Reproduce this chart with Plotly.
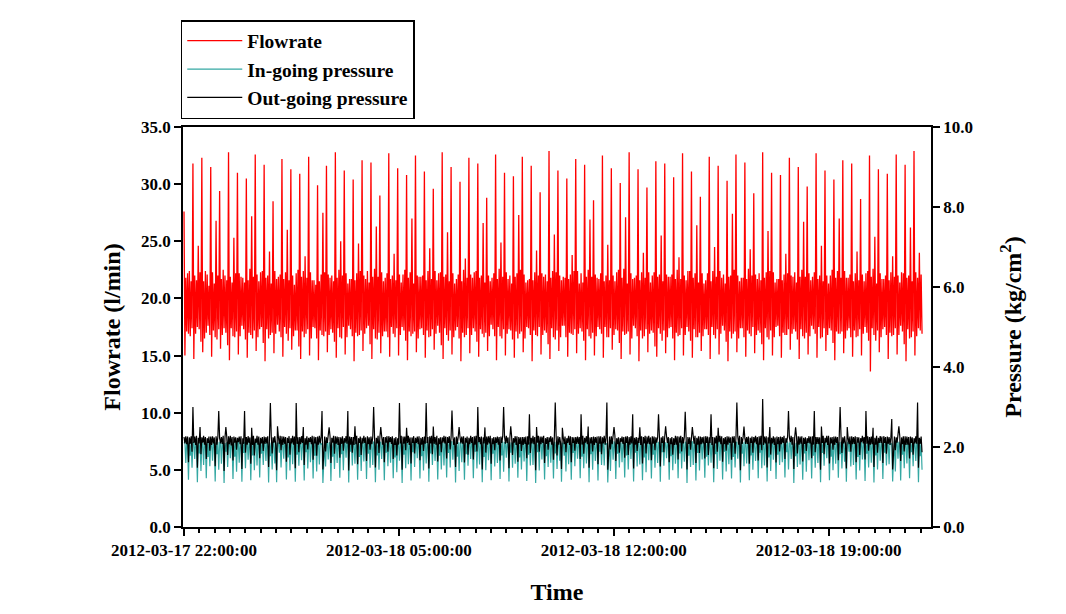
import plotly.graph_objects as go
import pandas as pd

# Flowrate (l/min): one row per pump cycle (~17.4 min), 10 samples per cycle
flow_rows = [
    [27.6, 15.0, 21.8, 17.1, 22.2, 16.9, 22.4, 16.7, 21.5, 17.4],
    [31.8, 14.7, 22.0, 16.9, 21.6, 17.5, 24.6, 17.3, 22.3, 16.2],
    [32.3, 15.3, 21.5, 16.5, 22.4, 17.0, 22.1, 17.6, 21.1, 16.8],
    [31.5, 14.9, 22.3, 17.2, 21.3, 16.6, 26.8, 16.4, 22.0, 17.3],
    [29.4, 15.6, 21.7, 16.8, 22.5, 17.4, 22.0, 17.0, 21.6, 15.9],
    [32.8, 14.6, 21.9, 17.4, 21.4, 16.7, 25.3, 16.6, 22.2, 17.1],
    [31.0, 15.1, 22.2, 16.7, 21.9, 17.6, 21.8, 17.3, 21.4, 16.4],
    [30.5, 14.8, 21.6, 17.0, 22.6, 16.8, 27.2, 16.5, 21.9, 17.2],
    [32.6, 15.4, 22.1, 16.6, 21.5, 17.3, 22.3, 17.5, 22.4, 16.1],
    [31.7, 14.5, 21.8, 17.3, 22.0, 16.5, 24.1, 16.8, 21.3, 17.0],
    [28.5, 15.2, 22.4, 16.9, 21.7, 17.7, 21.9, 17.1, 22.1, 16.6],
    [32.2, 14.9, 21.7, 17.5, 22.3, 16.9, 26.0, 16.3, 21.6, 17.4],
    [31.3, 15.5, 22.0, 16.7, 21.2, 17.2, 22.2, 17.2, 22.5, 15.8],
    [30.9, 14.7, 21.9, 17.1, 22.4, 16.6, 23.7, 16.9, 21.8, 17.3],
    [32.4, 15.0, 22.3, 16.5, 21.6, 17.5, 21.6, 17.4, 21.2, 16.5],
    [29.9, 14.6, 21.5, 17.2, 22.1, 16.8, 27.5, 16.7, 22.3, 17.1],
    [31.6, 15.3, 22.1, 16.8, 21.8, 17.3, 22.0, 17.0, 21.5, 16.2],
    [32.8, 14.8, 21.8, 17.4, 22.5, 16.6, 25.0, 16.5, 22.0, 17.5],
    [31.2, 15.1, 22.2, 16.6, 21.3, 17.6, 21.7, 17.3, 21.7, 16.7],
    [30.4, 14.5, 21.6, 17.0, 22.2, 16.7, 24.8, 16.8, 22.4, 17.2],
    [32.1, 15.4, 22.0, 16.9, 21.7, 17.4, 22.4, 17.6, 21.4, 16.0],
    [31.9, 14.7, 21.9, 17.3, 22.6, 16.5, 26.3, 16.4, 21.9, 17.0],
    [29.0, 15.2, 22.3, 16.7, 21.5, 17.1, 21.8, 17.1, 22.2, 16.6],
    [32.7, 14.9, 21.7, 17.5, 22.0, 16.9, 23.9, 16.6, 21.6, 17.4],
    [31.4, 15.0, 22.1, 16.8, 21.4, 17.5, 22.1, 17.2, 22.5, 16.3],
    [30.8, 14.6, 21.8, 17.1, 22.3, 16.7, 27.0, 16.9, 21.3, 17.1],
    [32.5, 15.3, 22.0, 16.5, 21.9, 17.3, 21.9, 17.4, 22.0, 16.8],
    [31.1, 14.8, 21.6, 17.2, 22.4, 16.6, 24.4, 16.7, 21.7, 17.3],
    [29.6, 15.5, 22.4, 16.9, 21.6, 17.6, 22.2, 17.0, 22.3, 15.9],
    [32.8, 14.7, 21.9, 17.4, 22.1, 16.8, 25.8, 16.3, 21.5, 17.2],
    [31.5, 15.1, 22.2, 16.6, 21.3, 17.2, 21.7, 17.5, 22.1, 16.5],
    [30.2, 14.5, 21.5, 17.0, 22.5, 16.6, 23.5, 16.8, 21.8, 17.4],
    [32.3, 15.2, 22.1, 16.8, 21.8, 17.4, 22.3, 17.1, 22.4, 16.2],
    [31.8, 14.9, 21.8, 17.3, 22.0, 16.9, 26.6, 16.6, 21.4, 17.0],
    [28.8, 15.4, 22.0, 16.7, 21.5, 17.7, 21.8, 17.3, 22.2, 16.7],
    [32.6, 14.6, 21.7, 17.5, 22.6, 16.7, 24.9, 16.5, 21.9, 17.3],
    [31.0, 15.0, 22.3, 16.9, 21.7, 17.3, 22.0, 17.2, 21.3, 16.4],
    [30.7, 14.8, 21.9, 17.1, 22.2, 16.5, 27.3, 16.9, 22.5, 17.1],
    [32.4, 15.3, 22.1, 16.5, 21.4, 17.5, 21.6, 17.4, 21.7, 16.8],
    [31.6, 14.5, 21.6, 17.2, 22.3, 16.8, 24.2, 16.7, 22.0, 17.5],
    [29.3, 15.1, 22.2, 16.8, 21.9, 17.2, 22.1, 17.0, 21.5, 16.0],
    [32.9, 14.7, 21.8, 17.4, 22.4, 16.6, 25.6, 16.4, 22.3, 17.2],
    [31.2, 15.4, 22.0, 16.6, 21.6, 17.6, 21.9, 17.6, 21.8, 16.6],
    [30.5, 14.9, 21.7, 17.0, 22.1, 16.9, 23.8, 16.8, 22.4, 17.3],
    [32.2, 15.2, 22.4, 16.9, 21.3, 17.4, 22.2, 17.1, 21.4, 16.3],
    [31.7, 14.6, 21.9, 17.3, 22.5, 16.7, 26.9, 16.5, 21.9, 17.0],
    [28.6, 15.0, 22.1, 16.7, 21.8, 17.5, 21.7, 17.3, 22.2, 16.9],
    [32.5, 14.8, 21.5, 17.5, 22.0, 16.6, 24.7, 16.6, 21.6, 17.4],
    [31.4, 15.5, 22.0, 16.8, 21.5, 17.3, 22.3, 17.2, 22.5, 16.1],
    [30.1, 14.7, 21.8, 17.1, 22.6, 16.8, 27.1, 16.9, 21.3, 17.1],
    [32.8, 15.1, 22.2, 16.5, 21.7, 17.6, 21.8, 17.4, 22.0, 16.7],
    [31.3, 14.5, 21.6, 17.2, 22.3, 16.5, 24.0, 16.7, 21.8, 17.3],
    [29.7, 15.3, 22.3, 16.9, 21.4, 17.2, 22.0, 17.0, 22.3, 15.8],
    [32.0, 14.9, 21.9, 17.4, 22.1, 16.9, 25.5, 16.3, 21.5, 17.2],
    [31.8, 15.2, 22.1, 16.6, 21.9, 17.4, 21.9, 17.5, 22.1, 16.5],
    [30.6, 14.6, 21.7, 17.0, 22.5, 16.7, 23.6, 16.8, 21.7, 17.4],
    [32.7, 15.0, 22.0, 16.8, 21.6, 17.5, 22.4, 17.1, 22.4, 16.3],
    [31.1, 14.8, 21.8, 17.3, 22.2, 16.6, 26.4, 16.6, 21.4, 17.0],
    [28.9, 15.4, 22.2, 16.7, 21.3, 17.3, 21.6, 17.3, 22.2, 16.8],
    [32.4, 14.7, 21.5, 17.5, 22.4, 16.8, 24.5, 16.5, 21.9, 17.3],
    [31.6, 15.1, 22.4, 16.9, 21.8, 17.6, 22.1, 17.2, 21.3, 16.2],
    [30.3, 14.5, 21.9, 17.1, 22.0, 16.5, 27.4, 16.9, 22.5, 17.1],
    [32.6, 15.3, 22.0, 16.5, 21.5, 17.4, 21.8, 17.4, 21.8, 16.6],
    [31.9, 14.9, 21.7, 17.2, 22.6, 16.9, 24.3, 16.7, 22.0, 17.5],
    [29.2, 15.2, 22.1, 16.8, 21.7, 17.2, 22.2, 17.0, 21.6, 16.0],
    [32.8, 14.6, 21.8, 17.4, 22.3, 16.6, 25.9, 16.4, 22.4, 17.2],
    [31.0, 15.0, 22.3, 16.6, 21.4, 17.5, 21.7, 17.6, 21.7, 16.7],
    [30.8, 14.8, 21.6, 17.0, 22.1, 16.8, 23.9, 16.8, 22.2, 17.3],
    [32.3, 15.5, 22.0, 16.9, 21.9, 17.3, 22.3, 17.1, 21.4, 16.4],
    [31.5, 14.7, 21.9, 17.3, 22.5, 16.7, 26.7, 16.5, 21.9, 17.0],
    [29.8, 15.1, 22.2, 16.7, 21.6, 17.6, 21.9, 17.3, 22.3, 16.9],
    [32.7, 14.8, 21.7, 17.5, 22.0, 16.5, 24.6, 16.6, 21.5, 17.4],
    [31.2, 15.4, 22.0, 16.8, 21.3, 17.4, 22.0, 17.2, 22.5, 16.1],
    [30.4, 14.6, 21.8, 17.1, 22.4, 16.9, 27.0, 16.9, 21.8, 17.1],
    [32.1, 15.2, 22.4, 16.5, 21.8, 17.2, 21.8, 17.4, 22.1, 16.6],
    [31.8, 14.9, 21.5, 17.2, 22.2, 16.6, 24.1, 16.7, 21.6, 17.3],
    [28.7, 15.0, 22.1, 16.9, 21.5, 17.5, 22.2, 17.0, 22.4, 16.3],
    [32.5, 13.6, 21.9, 17.4, 22.6, 16.8, 25.4, 16.3, 21.3, 17.2],
    [31.3, 15.3, 22.2, 16.6, 21.7, 17.3, 21.7, 17.5, 22.0, 16.8],
    [30.9, 14.7, 21.6, 17.0, 22.3, 16.7, 23.7, 16.8, 21.9, 17.4],
    [32.6, 15.1, 22.0, 16.8, 21.4, 17.6, 22.3, 17.1, 22.2, 16.0],
    [31.7, 14.5, 21.8, 17.3, 22.0, 16.5, 26.2, 16.6, 21.5, 17.1],
    [32.9, 15.0, 22.3, 16.7, 21.8, 17.4, 24.0, 17.2, 22.1, 16.9],
]

# In-going pressure (kg/cm2)
in_rows = [
    [2.10, 2.12, 1.60, 2.13, 2.07, 1.18, 2.11, 1.78, 2.12, 1.48],
    [2.11, 2.13, 1.70, 2.12, 2.05, 1.12, 2.10, 1.84, 2.14, 1.40],
    [2.09, 2.11, 1.55, 2.14, 2.08, 1.22, 2.12, 1.75, 2.11, 1.52],
    [2.12, 2.10, 1.66, 2.13, 2.06, 1.14, 2.11, 1.82, 2.13, 1.43],
    [2.10, 2.14, 1.58, 2.12, 2.07, 1.10, 2.10, 1.88, 2.12, 1.50],
    [2.08, 2.12, 1.72, 2.13, 2.05, 1.20, 2.13, 1.76, 2.11, 1.38],
    [2.11, 2.11, 1.61, 2.14, 2.08, 1.13, 2.12, 1.85, 2.13, 1.47],
    [2.10, 2.13, 1.68, 2.12, 2.06, 1.17, 2.10, 1.79, 2.12, 1.42],
    [2.09, 2.12, 1.54, 2.13, 2.07, 1.24, 2.11, 1.83, 2.14, 1.55],
    [2.12, 2.10, 1.65, 2.14, 2.05, 1.11, 2.12, 1.77, 2.11, 1.44],
    [2.10, 2.14, 1.59, 2.12, 1.12, 2.08, 2.11, 1.86, 2.13, 1.49],
    [2.08, 2.11, 1.71, 2.13, 2.06, 1.19, 2.10, 1.74, 2.12, 1.41],
    [2.11, 2.13, 1.57, 2.14, 2.07, 1.13, 2.12, 1.81, 2.11, 1.53],
    [2.10, 2.12, 1.67, 2.12, 2.05, 1.16, 2.11, 1.87, 2.13, 1.46],
    [2.09, 2.10, 1.62, 2.13, 2.08, 1.21, 2.13, 1.78, 2.12, 1.39],
    [2.12, 2.14, 1.56, 2.14, 2.06, 2.09, 1.10, 1.84, 2.14, 1.51],
    [2.10, 2.11, 1.69, 2.12, 2.07, 1.15, 2.10, 1.76, 2.11, 1.45],
    [2.08, 2.13, 1.60, 2.13, 2.05, 1.23, 2.12, 1.82, 2.13, 1.42],
    [2.11, 2.12, 1.73, 2.14, 2.08, 1.11, 2.11, 1.88, 2.12, 1.54],
    [2.10, 2.10, 1.58, 2.12, 2.06, 1.18, 2.10, 1.75, 2.14, 1.40],
    [2.09, 2.14, 1.64, 2.13, 2.07, 1.20, 2.13, 1.83, 2.11, 1.48],
    [2.12, 2.11, 1.55, 2.14, 2.05, 1.12, 2.12, 1.79, 2.13, 1.43],
    [2.10, 2.13, 1.70, 2.12, 2.08, 1.17, 2.11, 1.86, 2.12, 1.52],
    [2.08, 2.12, 1.61, 2.13, 2.06, 1.22, 2.10, 1.74, 2.14, 1.37],
    [2.11, 2.10, 1.66, 2.14, 2.07, 1.10, 2.12, 1.81, 2.11, 1.47],
    [2.10, 2.14, 1.57, 2.12, 2.05, 1.16, 2.13, 1.87, 2.13, 1.50],
    [2.09, 2.11, 1.72, 2.13, 2.08, 1.21, 2.11, 1.77, 2.12, 1.41],
    [2.12, 2.13, 1.59, 2.14, 2.06, 1.13, 2.10, 1.84, 2.14, 1.55],
    [2.10, 2.12, 1.65, 2.12, 2.07, 1.19, 2.12, 1.78, 2.11, 1.44],
    [2.08, 2.10, 1.54, 2.13, 2.05, 1.24, 2.13, 1.85, 2.13, 1.49],
    [2.11, 2.14, 1.68, 2.14, 2.08, 1.11, 2.11, 1.76, 2.12, 1.40],
    [2.10, 2.11, 1.62, 2.12, 2.06, 1.18, 2.10, 1.82, 2.14, 1.53],
    [2.09, 2.13, 1.70, 2.13, 2.07, 1.22, 2.12, 1.88, 2.11, 1.46],
    [2.12, 2.12, 1.56, 2.14, 2.05, 1.12, 2.13, 1.75, 2.13, 1.42],
    [2.10, 2.10, 1.67, 2.12, 2.08, 1.17, 2.11, 1.83, 2.12, 1.51],
    [2.08, 2.14, 1.60, 2.13, 2.06, 1.20, 2.10, 1.79, 2.14, 1.38],
    [2.11, 2.11, 1.73, 2.14, 2.07, 1.14, 2.12, 1.86, 2.11, 1.48],
    [2.10, 2.13, 1.58, 2.12, 2.05, 1.23, 2.13, 1.74, 2.13, 1.44],
    [2.09, 2.12, 1.64, 2.13, 2.08, 1.15, 2.11, 1.81, 2.12, 1.54],
    [2.12, 2.10, 1.55, 2.14, 2.06, 1.10, 2.10, 1.87, 2.14, 1.41],
    [2.10, 2.14, 1.69, 2.12, 2.07, 1.19, 2.12, 1.77, 2.11, 1.50],
    [2.08, 2.11, 1.61, 2.13, 2.05, 1.21, 2.13, 1.84, 2.13, 1.45],
    [2.11, 2.13, 1.66, 2.14, 1.13, 2.08, 2.11, 1.78, 2.12, 1.39],
    [2.10, 2.12, 1.57, 2.12, 2.06, 1.18, 2.10, 1.85, 2.14, 1.52],
    [2.09, 2.10, 1.71, 2.13, 2.07, 1.22, 2.12, 1.76, 2.11, 1.47],
    [2.12, 2.14, 1.59, 2.14, 2.05, 1.12, 2.13, 1.82, 2.13, 1.43],
    [2.10, 2.11, 1.65, 2.12, 2.08, 1.16, 2.11, 1.88, 2.12, 1.55],
    [2.08, 2.13, 1.54, 2.13, 2.06, 2.09, 1.11, 1.75, 2.14, 1.40],
    [2.11, 2.12, 1.68, 2.14, 2.07, 1.20, 2.10, 1.83, 2.11, 1.49],
    [2.10, 2.10, 1.62, 2.12, 2.05, 1.24, 2.12, 1.79, 2.13, 1.44],
    [2.09, 2.14, 1.70, 2.13, 2.08, 1.14, 2.13, 1.86, 2.12, 1.51],
    [2.12, 2.11, 1.56, 2.14, 2.06, 1.17, 2.11, 1.74, 2.14, 1.37],
    [2.10, 2.13, 1.67, 2.12, 2.07, 1.21, 2.10, 1.81, 2.11, 1.48],
    [2.08, 2.12, 1.60, 2.13, 2.05, 1.13, 2.12, 1.87, 2.13, 1.53],
    [2.11, 2.10, 1.72, 2.14, 2.08, 1.18, 2.13, 1.77, 2.12, 1.42],
    [2.10, 2.14, 1.58, 2.12, 2.06, 1.22, 2.11, 1.84, 2.14, 1.46],
    [2.09, 2.11, 1.63, 2.13, 2.07, 1.10, 2.10, 1.78, 2.11, 1.50],
    [2.12, 2.13, 1.55, 2.14, 2.05, 1.16, 2.12, 1.85, 2.13, 1.41],
    [2.10, 2.12, 1.69, 2.12, 2.08, 1.23, 2.13, 1.76, 2.12, 1.54],
    [2.08, 2.10, 1.61, 2.13, 2.06, 1.12, 2.11, 1.82, 2.14, 1.45],
    [2.11, 2.14, 1.66, 2.14, 2.07, 1.19, 2.10, 1.88, 2.11, 1.39],
    [2.10, 2.11, 1.57, 2.12, 2.05, 1.21, 2.12, 1.75, 2.13, 1.49],
    [2.09, 2.13, 1.71, 2.13, 2.08, 1.11, 2.13, 1.83, 2.12, 1.52],
    [2.12, 2.12, 1.59, 2.14, 2.06, 1.17, 2.11, 1.79, 2.14, 1.43],
    [2.10, 2.10, 1.65, 2.12, 2.07, 1.22, 2.10, 1.86, 2.11, 1.47],
    [2.08, 2.14, 1.54, 2.13, 2.05, 1.14, 2.12, 1.74, 2.13, 1.40],
    [2.11, 2.11, 1.68, 2.14, 2.08, 1.20, 2.13, 1.81, 2.12, 1.55],
    [2.10, 2.13, 1.62, 2.12, 2.06, 1.24, 2.11, 1.87, 2.14, 1.44],
    [2.09, 2.12, 1.70, 2.13, 2.07, 1.10, 2.10, 1.77, 2.11, 1.50],
    [2.12, 2.10, 1.56, 2.14, 2.05, 1.18, 2.12, 1.84, 2.13, 1.38],
    [2.10, 2.14, 1.67, 2.12, 2.08, 1.21, 2.13, 1.78, 2.12, 1.48],
    [2.08, 2.11, 1.60, 2.13, 2.06, 1.12, 2.11, 1.85, 2.14, 1.53],
    [2.11, 2.13, 1.72, 2.14, 2.07, 1.17, 2.10, 1.76, 2.11, 1.42],
    [2.10, 2.12, 1.58, 2.12, 2.05, 1.23, 2.12, 1.82, 2.13, 1.46],
    [2.09, 2.10, 1.63, 2.13, 1.13, 2.08, 2.13, 1.88, 2.12, 1.51],
    [2.12, 2.14, 1.55, 2.14, 2.06, 1.19, 2.11, 1.75, 2.14, 1.41],
    [2.10, 2.11, 1.69, 2.12, 2.07, 1.15, 2.10, 1.83, 2.11, 1.49],
    [2.08, 2.13, 1.61, 2.13, 2.05, 1.11, 2.12, 1.79, 2.13, 1.44],
    [2.11, 2.12, 1.66, 2.14, 2.08, 1.20, 2.13, 1.86, 2.12, 1.54],
    [2.10, 2.10, 1.57, 2.12, 2.06, 2.09, 1.14, 1.74, 2.14, 1.39],
    [2.09, 2.14, 1.71, 2.13, 2.07, 1.16, 2.11, 1.81, 2.11, 1.47],
    [2.12, 2.11, 1.59, 2.14, 2.05, 1.22, 2.10, 1.87, 2.13, 1.52],
    [2.10, 2.13, 1.65, 2.12, 2.08, 1.12, 2.12, 1.77, 2.12, 1.43],
]

# Out-going pressure (kg/cm2)
out_rows = [
    [2.25, 2.09, 2.27, 2.07, 2.26, 1.62, 2.24, 2.08, 2.27, 1.88],
    [3.00, 2.10, 2.26, 2.05, 2.28, 1.48, 2.23, 2.09, 2.50, 1.82],
    [2.24, 2.11, 2.28, 2.06, 2.25, 1.70, 2.22, 2.10, 2.26, 1.91],
    [2.26, 2.05, 2.27, 2.09, 2.24, 1.52, 2.27, 2.06, 2.25, 2.90],
    [2.22, 2.09, 2.25, 2.08, 2.28, 1.40, 2.23, 2.50, 2.26, 1.80],
    [2.27, 2.07, 2.28, 2.04, 2.25, 1.66, 2.26, 2.11, 2.24, 1.93],
    [2.23, 2.12, 2.26, 2.07, 2.27, 1.45, 2.22, 2.08, 2.90, 1.86],
    [2.25, 2.06, 2.27, 2.10, 2.24, 1.58, 2.48, 2.05, 2.28, 1.79],
    [2.21, 2.10, 2.28, 2.06, 2.26, 1.72, 2.23, 2.09, 2.25, 1.90],
    [2.26, 2.08, 2.25, 2.09, 2.27, 1.50, 2.24, 3.10, 2.26, 1.84],
    [2.24, 2.11, 2.27, 2.05, 1.42, 2.52, 2.25, 2.07, 2.28, 1.92],
    [2.27, 2.05, 2.26, 2.08, 2.25, 1.63, 2.23, 2.10, 2.27, 1.81],
    [2.22, 2.09, 2.28, 2.06, 2.26, 1.47, 3.10, 2.08, 2.24, 1.87],
    [2.25, 2.07, 2.27, 2.10, 2.50, 1.55, 2.22, 2.06, 2.27, 1.94],
    [2.23, 2.12, 2.25, 2.07, 2.28, 1.68, 2.26, 2.09, 2.25, 1.78],
    [2.26, 2.06, 2.28, 2.09, 2.24, 2.90, 1.44, 2.07, 2.26, 1.89],
    [2.24, 2.10, 2.26, 2.49, 2.27, 1.60, 2.23, 2.11, 2.28, 1.83],
    [2.27, 2.08, 2.26, 2.05, 2.25, 1.73, 2.24, 2.08, 2.27, 1.91],
    [2.22, 2.11, 2.27, 2.08, 2.90, 1.41, 2.26, 2.06, 2.25, 1.86],
    [2.25, 2.05, 2.52, 2.07, 2.28, 1.57, 2.22, 2.10, 2.26, 1.80],
    [2.23, 2.09, 2.28, 2.10, 2.24, 1.65, 2.27, 2.07, 2.24, 1.93],
    [2.26, 2.07, 2.25, 3.00, 2.26, 1.49, 2.23, 2.09, 2.28, 1.85],
    [2.24, 2.50, 2.27, 2.06, 2.25, 1.62, 2.25, 2.11, 2.27, 1.88],
    [2.27, 2.12, 2.25, 2.08, 2.27, 1.70, 2.22, 2.05, 2.25, 1.79],
    [2.22, 2.06, 3.10, 2.09, 2.28, 1.43, 2.26, 2.08, 2.26, 1.92],
    [2.48, 2.10, 2.28, 2.05, 2.24, 1.59, 2.24, 2.10, 2.27, 1.84],
    [2.23, 2.10, 2.26, 2.07, 2.27, 1.67, 2.23, 2.06, 2.25, 1.90],
    [2.26, 2.08, 3.10, 2.10, 2.25, 1.46, 2.27, 2.09, 2.28, 1.82],
    [2.51, 2.08, 2.25, 2.06, 2.28, 1.64, 2.22, 2.07, 2.24, 1.87],
    [2.24, 2.11, 2.28, 2.09, 2.26, 1.71, 2.25, 2.10, 2.27, 1.94],
    [2.25, 2.91, 2.27, 2.05, 2.24, 1.50, 2.26, 2.08, 2.25, 2.50],
    [2.25, 2.09, 2.26, 2.08, 2.27, 1.61, 2.23, 2.11, 2.26, 1.81],
    [2.23, 2.07, 2.28, 2.10, 2.25, 1.69, 2.27, 2.06, 2.28, 1.89],
    [3.00, 2.12, 2.25, 2.07, 2.26, 1.44, 2.24, 2.09, 2.49, 1.86],
    [2.26, 2.06, 2.27, 2.09, 2.28, 1.58, 2.22, 2.07, 2.25, 1.92],
    [2.24, 2.10, 2.26, 2.06, 2.25, 1.66, 2.26, 2.10, 2.27, 3.00],
    [2.27, 2.08, 2.28, 2.10, 2.24, 1.47, 2.23, 2.52, 2.26, 1.80],
    [2.22, 2.11, 2.27, 2.05, 2.27, 1.63, 2.25, 2.08, 2.24, 1.90],
    [2.25, 2.05, 2.25, 2.08, 2.26, 1.72, 2.27, 2.06, 2.82, 1.85],
    [2.23, 2.09, 2.28, 2.07, 2.25, 1.42, 2.50, 2.11, 2.28, 1.88],
    [2.26, 2.07, 2.26, 2.10, 2.28, 1.60, 2.22, 2.08, 2.25, 1.93],
    [2.24, 2.12, 2.27, 2.06, 2.24, 1.68, 2.26, 3.11, 2.27, 1.79],
    [2.27, 2.06, 2.25, 2.09, 1.45, 2.48, 2.23, 2.07, 2.26, 1.87],
    [2.22, 2.10, 2.28, 2.05, 2.27, 1.62, 2.25, 2.10, 2.24, 1.91],
    [2.25, 2.08, 2.26, 2.08, 2.25, 1.70, 2.82, 2.06, 2.28, 1.83],
    [2.23, 2.11, 2.27, 2.07, 2.51, 1.48, 2.24, 2.09, 2.25, 1.89],
    [2.26, 2.05, 2.25, 2.10, 2.26, 1.57, 2.27, 2.08, 2.27, 1.82],
    [2.24, 2.09, 2.28, 2.06, 2.24, 3.11, 1.43, 2.11, 2.26, 1.94],
    [2.27, 2.07, 2.26, 2.50, 2.28, 1.65, 2.22, 2.07, 2.24, 1.86],
    [2.22, 2.12, 2.26, 2.08, 2.25, 1.73, 2.26, 2.10, 2.27, 1.80],
    [2.25, 2.06, 2.27, 2.09, 2.82, 1.46, 2.23, 2.06, 2.25, 1.90],
    [2.23, 2.10, 2.49, 2.05, 2.27, 1.59, 2.25, 2.09, 2.28, 1.84],
    [2.26, 2.08, 2.28, 2.07, 2.24, 1.67, 2.27, 2.08, 2.26, 1.92],
    [2.24, 2.11, 2.25, 2.82, 2.26, 1.51, 2.24, 2.10, 2.27, 1.87],
    [2.27, 2.52, 2.27, 2.10, 2.25, 1.62, 2.22, 2.07, 2.25, 1.81],
    [2.22, 2.05, 2.28, 2.06, 2.27, 1.69, 2.26, 2.11, 2.28, 1.89],
    [2.25, 2.09, 2.26, 2.88, 2.24, 1.44, 2.25, 2.08, 2.24, 1.93],
    [2.23, 2.50, 2.27, 2.08, 2.28, 1.60, 2.23, 2.06, 2.27, 1.85],
    [2.26, 2.07, 2.25, 2.09, 2.26, 1.71, 2.27, 2.10, 2.26, 1.80],
    [2.24, 2.10, 2.82, 2.05, 2.25, 1.47, 2.24, 2.09, 2.28, 1.88],
    [2.48, 2.12, 2.28, 2.07, 2.27, 1.63, 2.22, 2.07, 2.25, 1.91],
    [2.27, 2.06, 2.26, 2.10, 2.24, 1.68, 2.26, 2.11, 2.27, 1.83],
    [2.25, 3.11, 2.27, 2.06, 2.28, 1.42, 2.25, 2.08, 2.24, 2.51],
    [2.22, 2.08, 2.25, 2.08, 2.26, 1.58, 2.23, 2.10, 2.26, 1.86],
    [2.25, 2.11, 2.28, 2.07, 2.25, 1.66, 2.27, 2.06, 2.28, 1.92],
    [3.20, 2.05, 2.26, 2.09, 2.27, 1.49, 2.24, 2.09, 2.50, 1.81],
    [2.23, 2.09, 2.27, 2.05, 2.24, 1.61, 2.26, 2.07, 2.25, 1.89],
    [2.26, 2.07, 2.25, 2.10, 2.28, 1.70, 2.22, 2.11, 2.27, 2.90],
    [2.24, 2.12, 2.28, 2.06, 2.25, 1.45, 2.25, 2.49, 2.26, 1.84],
    [2.27, 2.06, 2.26, 2.08, 2.27, 1.64, 2.23, 2.08, 2.24, 1.90],
    [2.22, 2.10, 2.27, 2.09, 2.26, 1.72, 2.27, 2.06, 2.90, 1.87],
    [2.25, 2.08, 2.25, 2.07, 2.24, 1.43, 2.51, 2.10, 2.28, 1.82],
    [2.23, 2.11, 2.28, 2.05, 2.28, 1.59, 2.24, 2.09, 2.25, 1.93],
    [2.26, 2.05, 2.26, 2.10, 2.25, 1.67, 2.26, 3.00, 2.27, 1.85],
    [2.24, 2.09, 2.27, 2.06, 1.46, 2.50, 2.22, 2.07, 2.26, 1.88],
    [2.27, 2.07, 2.25, 2.08, 2.27, 1.62, 2.25, 2.11, 2.24, 1.80],
    [2.22, 2.12, 2.28, 2.09, 2.25, 1.69, 2.90, 2.08, 2.27, 1.91],
    [2.25, 2.06, 2.26, 2.07, 2.48, 1.50, 2.23, 2.06, 2.28, 1.86],
    [2.23, 2.10, 2.27, 2.10, 2.26, 1.60, 2.27, 2.10, 2.25, 1.83],
    [2.26, 2.08, 2.25, 2.05, 2.24, 2.70, 1.44, 2.09, 2.26, 1.92],
    [2.24, 2.11, 2.28, 2.52, 2.27, 1.65, 2.24, 2.07, 2.27, 1.89],
    [2.27, 2.05, 2.26, 2.06, 2.25, 1.71, 2.26, 2.10, 2.24, 1.81],
    [2.22, 2.09, 2.27, 2.08, 3.11, 1.48, 2.23, 2.08, 2.26, 1.87],
]

x_tick_start = "2012-03-17 22:00:00"
x_range = ["2012-03-17 21:58:00", "2012-03-18 22:20:00"]
sample_step = "104400ms"

flowrate = [v for row in flow_rows for v in row]
in_pressure = [v for row in in_rows for v in row]
out_pressure = [v for row in out_rows for v in row]
time = pd.date_range(x_tick_start, periods=len(flowrate), freq=sample_step)

FONT = "Liberation Serif"

fig = go.Figure()
fig.add_trace(go.Scatter(x=time, y=flowrate, mode="lines", name="Flowrate",
                         line=dict(color="#ff0000", width=1.3)))
fig.add_trace(go.Scatter(x=time, y=in_pressure, mode="lines", name="In-going pressure",
                         yaxis="y2", line=dict(color="#35a8a3", width=1.2)))
fig.add_trace(go.Scatter(x=time, y=out_pressure, mode="lines", name="Out-going pressure",
                         yaxis="y2", line=dict(color="#000000", width=1.2)))

tickfont = dict(family=FONT, size=17, color="black", weight="bold")
titlefont = dict(family=FONT, size=24, color="black", weight="bold")

fig.update_layout(
    width=1066, height=614,
    margin=dict(l=183, r=135, t=127, b=87),
    paper_bgcolor="white", plot_bgcolor="white",
    font=dict(family=FONT, color="black"),
    showlegend=True,
    legend=dict(x=-0.003, y=1.2675, xanchor="left", yanchor="top",
                bordercolor="black", borderwidth=1.5, bgcolor="white",
                itemwidth=55,
                font=dict(family=FONT, size=19.5, color="black", weight="bold")),
    xaxis=dict(type="date", range=x_range, tick0=x_tick_start, dtick=7 * 3600000,
               tickformat="%Y-%m-%d %H:%M:%S", ticks="outside", ticklen=7,
               tickwidth=1.5, tickcolor="black", showline=True, linewidth=1.5,
               linecolor="black", mirror=True, showgrid=False, zeroline=False,
               tickfont=tickfont,
               minor=dict(dtick=1800000, ticks="outside", ticklen=4,
                          tickcolor="black", showgrid=False),
               title=dict(text="Time", font=titlefont, standoff=24)),
    yaxis=dict(range=[0, 35], dtick=5, tick0=0, tickformat=".1f", ticks="outside",
               ticklen=7, tickwidth=1.5, tickcolor="black", showline=True,
               linewidth=1.5, linecolor="black", showgrid=False, zeroline=False,
               tickfont=tickfont,
               title=dict(text="Flowrate (l/min)", font=titlefont, standoff=14)),
    yaxis2=dict(overlaying="y", side="right", range=[0, 10], dtick=2, tick0=0,
                tickformat=".1f", ticks="outside", ticklen=7, tickwidth=1.5,
                tickcolor="black", showline=True, linewidth=1.5, linecolor="black",
                showgrid=False, zeroline=False, tickfont=tickfont,
                title=dict(text="Pressure (kg/cm<sup>2</sup>)", font=titlefont,
                           standoff=32)),
)

fig.write_html("out.html")
